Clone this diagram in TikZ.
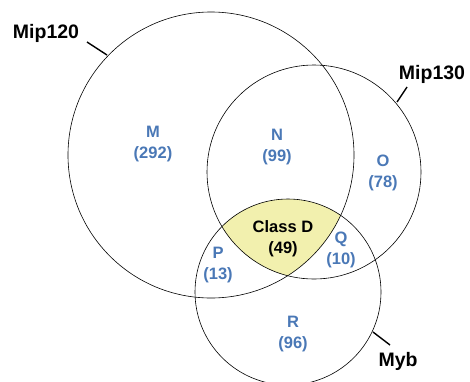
\documentclass[tikz,border=0pt]{standalone}
\usepackage{fontspec}
\setmainfont{Liberation Sans}
\definecolor{setblue}{HTML}{4A78B6}
\definecolor{classyellow}{HTML}{F2F0AE}
\tikzset{
  setname/.style={font=\fontsize{19.5}{22}\selectfont\bfseries},
  region/.style={font=\fontsize{16.5}{21}\selectfont\bfseries, text=setblue, align=center, inner sep=0pt},
  tick/.style={line width=1.4pt}
}
\begin{document}
\begin{tikzpicture}[x=1pt,y=-1pt]
        \useasboundingbox (0,0) rectangle (470,381);
        % 円の中心
        \coordinate (c120) at (211,155);
        \coordinate (c130) at (314,172);
        \coordinate (cmyb) at (288,292);
        % Class D を塗りつぶす
        \begin{scope}
          \clip (c120) circle (143);
          \clip (c130) circle (107);
          \fill[classyellow] (cmyb) circle (93);
        \end{scope}
        % 集合の円
        \draw[line width=0.6pt] (c120) circle (143);
        \draw[line width=0.6pt] (c130) circle (107);
        \draw[line width=0.6pt] (cmyb) circle (93);
        % 集合の名前と目印の線
        \node[setname] (mip120) at (46,33) {Mip120};
        \coordinate (t120) at (107,55);
        \draw[tick] (t120) -- (87,42);
        \node[setname] (mip130) at (432,74) {Mip130};
        \coordinate (t130) at (397,102);
        \draw[tick] (t130) -- (407,87);
        \node[setname] (myb) at (398,361) {Myb};
        \coordinate (tmyb) at (373,332);
        \draw[tick] (tmyb) -- (390,345);
        % 各領域の数
        \node[region] (m) at (153,144) {M\\(292)};
        \node[region] (n) at (277,147) {N\\(99)};
        \node[region] (o) at (383,173) {O\\(78)};
        \node[region, text=black] (d) at (283,239) {Class D\\(49)};
        \node[region] (p) at (218,265) {P\\(13)};
        \node[region] (q) at (341,250) {Q\\(10)};
        \node[region] (r) at (293,334) {R\\(96)};
      \end{tikzpicture}
\end{document}
